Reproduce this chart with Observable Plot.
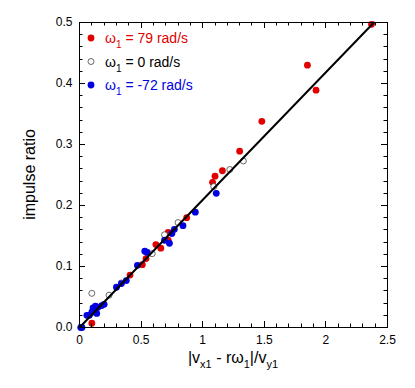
<!DOCTYPE html>
<html>
<head>
<meta charset="utf-8">
<script src="https://cdn.jsdelivr.net/npm/d3@7"></script>
<script src="https://cdn.jsdelivr.net/npm/@observablehq/plot@0.6"></script>
<style>
  html, body { margin: 0; padding: 0; background: #fff; }
  body { width: 415px; height: 388px; overflow: hidden; color: #000; }
</style>
</head>
<body>
<div id="chart"></div>
<script>
// ω1 = 79 rad/s (red, filled)
const redX = [2.37, 1.85, 1.92, 1.48, 1.30, 1.16, 1.10, 1.08, 0.87, 0.72, 0.72, 0.66, 0.62, 0.54, 0.51, 0.41, 0.10];
const redY = [0.497, 0.430, 0.389, 0.338, 0.289, 0.257, 0.248, 0.238, 0.180, 0.156, 0.143, 0.130, 0.136, 0.113, 0.103, 0.086, 0.007];
// ω1 = 0 rad/s (open)
const zeroX = [1.33, 1.22, 1.09, 0.80, 0.69, 0.59, 0.34, 0.24, 0.10];
const zeroY = [0.273, 0.259, 0.231, 0.172, 0.152, 0.121, 0.073, 0.053, 0.056];
// ω1 = -72 rad/s (blue, filled)
const blueX = [1.11, 0.94, 0.84, 0.77, 0.75, 0.69, 0.73, 0.55, 0.53, 0.47, 0.38, 0.34, 0.30, 0.20, 0.18, 0.15, 0.12, 0.14, 0.10, 0.11, 0.08, 0.06, 0.13, 0.01, 0.02];
const blueY = [0.220, 0.189, 0.167, 0.161, 0.154, 0.143, 0.138, 0.123, 0.125, 0.102, 0.077, 0.072, 0.066, 0.038, 0.036, 0.033, 0.028, 0.023, 0.025, 0.032, 0.020, 0.020, 0.035, 0.000, 0.000];
// fitted line
const fitX = [0, 2.39];
const fitY = [0, 0.5];
// ticks
const xMajor = [0, 0.5, 1, 1.5, 2, 2.5];
const xMinor = d3.range(0, 25).map(i => i / 10).filter(v => Math.abs(v * 2 - Math.round(v * 2)) > 1e-9);
const yMajor = [0, 0.1, 0.2, 0.3, 0.4, 0.5];
const yMinor = d3.range(0, 25).map(i => i / 50).filter(v => Math.abs(v * 10 - Math.round(v * 10)) > 1e-9);
const legendLabels = ["79", "0", "-72"];

const RED = "#e00000", BLUE = "#0000e0";
const zip = (xs, ys) => xs.map((x, i) => ({x, y: ys[i]}));
const red = zip(redX, redY), zero = zip(zeroX, zeroY), blue = zip(blueX, blueY), fit = zip(fitX, fitY);

const plot = Plot.plot({
  width: 415, height: 388,
  marginLeft: 79, marginRight: 28, marginTop: 22, marginBottom: 61,
  style: {fontFamily: "'Liberation Sans', Arial, Helvetica, sans-serif", fontSize: "12px", color: "#000", background: "#fff"},
  x: {domain: [0, 2.5]},
  y: {domain: [0, 0.5]},
  marks: [
    Plot.axisX({ticks: xMajor, tickSize: 0, tickPadding: 8, label: null, tickFormat: d => String(d), fontSize: 12}),
    Plot.axisY({ticks: yMajor, tickSize: 0, tickPadding: 7, label: null, tickFormat: d3.format(".1f"), fontSize: 12}),
    Plot.dot(red, {x: "x", y: "y", r: 3.4, fill: RED, stroke: "none"}),
    Plot.dot(zero, {x: "x", y: "y", r: 3, fill: "#fff", stroke: "#444", strokeWidth: 0.8}),
    Plot.dot(blue, {x: "x", y: "y", r: 3.4, fill: BLUE, stroke: "none"}),
    Plot.line(fit, {x: "x", y: "y", stroke: "#000", strokeWidth: 2}),
    Plot.frame({stroke: "#000", strokeWidth: 1})
  ]
});
document.getElementById("chart").appendChild(plot);

const svg = d3.select(plot);
const sx = plot.scale("x"), sy = plot.scale("y");
const x0 = sx.apply(0), x1 = sx.apply(2.5), y0 = sy.apply(0), y1 = sy.apply(0.5);
const g = svg.append("g").attr("stroke", "#000").attr("stroke-width", 1);
function xt(v, len) {
  const px = Math.round(sx.apply(v)) + 0.5;
  g.append("line").attr("x1", px).attr("x2", px).attr("y1", y0).attr("y2", y0 - len);
  g.append("line").attr("x1", px).attr("x2", px).attr("y1", y1).attr("y2", y1 + len);
}
function yt(v, len) {
  const py = Math.round(sy.apply(v)) + 0.5;
  g.append("line").attr("y1", py).attr("y2", py).attr("x1", x0).attr("x2", x0 + len);
  g.append("line").attr("y1", py).attr("y2", py).attr("x1", x1).attr("x2", x1 - len);
}
xMajor.forEach(v => xt(v, 6)); xMinor.forEach(v => xt(v, 3.5));
yMajor.forEach(v => yt(v, 6)); yMinor.forEach(v => yt(v, 3.5));

const font = "'Liberation Sans', Arial, Helvetica, sans-serif";
// y label
svg.append("text").attr("transform", `translate(35,${(y0 + y1) / 2}) rotate(-90)`)
  .attr("text-anchor", "middle").attr("font-family", font).attr("font-size", 16).attr("fill", "#000")
  .text("impulse ratio");
// x label: |v_x1 - rω_1|/v_y1
const xl = svg.append("text").attr("x", (x0 + x1) / 2).attr("y", 363)
  .attr("text-anchor", "middle").attr("font-family", font).attr("font-size", 16).attr("fill", "#000");
xl.append("tspan").text("|v");
xl.append("tspan").attr("font-size", 11).attr("dy", 5).text("x1");
xl.append("tspan").attr("dy", -5).text(" - rω");
xl.append("tspan").attr("font-size", 11).attr("dy", 5).text("1");
xl.append("tspan").attr("dy", -5).text("|/v");
xl.append("tspan").attr("font-size", 11).attr("dy", 5).text("y1");

// legend
const legColors = [RED, "#000", BLUE];
legendLabels.forEach((lab, i) => {
  const cy = 38 + i * 23.5;
  if (i === 1) {
    svg.append("circle").attr("cx", 91).attr("cy", cy).attr("r", 3).attr("fill", "#fff").attr("stroke", "#444").attr("stroke-width", 0.8);
  } else {
    svg.append("circle").attr("cx", 91).attr("cy", cy).attr("r", 3.4).attr("fill", legColors[i]);
  }
  const t = svg.append("text").attr("x", 105).attr("y", cy + 5).attr("text-anchor", "start")
    .attr("font-family", font).attr("font-size", 14).attr("fill", legColors[i]);
  t.append("tspan").text("ω");
  t.append("tspan").attr("font-size", 10).attr("dy", 5).text("1");
  t.append("tspan").attr("dy", -5).text(` = ${lab} rad/s`);
});
</script>
</body>
</html>
